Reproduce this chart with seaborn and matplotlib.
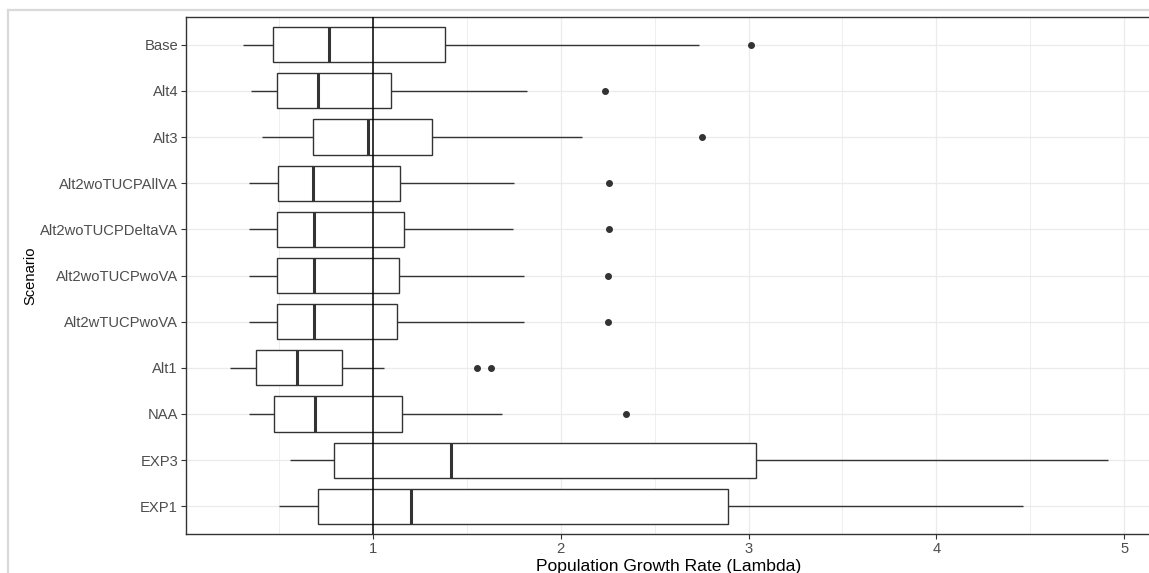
import matplotlib.pyplot as plt
import numpy as np
import pandas as pd
import seaborn as sns
from matplotlib.lines import Line2D
from matplotlib.ticker import MultipleLocator

# Scenarios, top to bottom
scenarios = ['Base', 'Alt4', 'Alt3', 'Alt2woTUCPAllVA', 'Alt2woTUCPDeltaVA',
             'Alt2woTUCPwoVA', 'Alt2wTUCPwoVA', 'Alt1', 'NAA', 'EXP3', 'EXP1']

# box summaries
whisker_lo = [0.31, 0.35, 0.41, 0.34, 0.34, 0.34, 0.34, 0.24, 0.34, 0.56, 0.50]
q1 = [0.467, 0.487, 0.682, 0.494, 0.487, 0.487, 0.487, 0.377, 0.474, 0.793, 0.709]
median = [0.766, 0.705, 0.972, 0.680, 0.688, 0.688, 0.688, 0.594, 0.693, 1.415, 1.200]
q3 = [1.385, 1.094, 1.316, 1.146, 1.165, 1.140, 1.126, 0.835, 1.153, 3.039, 2.889]
whisker_hi = [2.735, 1.819, 2.111, 1.753, 1.746, 1.806, 1.806, 1.057, 1.689, 4.915, 4.461]
outliers = [[3.012], [2.237], [2.752], [2.257], [2.257], [2.252], [2.252],
            [1.554, 1.627], [2.348], [], []]


# build observations whose quartiles / whiskers give the summaries above
rows = []
for i, name in enumerate(scenarios):
    k = len(outliers[i])
    m = k + 1
    vals = ([whisker_lo[i]] + [q1[i]] * m + [median[i]] * m + [q3[i]] * m
            + [whisker_hi[i]] * (m - k) + outliers[i])
    for v in vals:
        rows.append({'Scenario': name, 'Lambda': v})
df = pd.DataFrame(rows)


fig = plt.figure(figsize=(11.49, 5.73), dpi=100)
W, H = 1149, 573
ax = fig.add_axes([186 / W, (H - 534) / H, (1152 - 186) / W, (534 - 17) / H])

sns.boxplot(data=df, x='Lambda', y='Scenario', order=scenarios, ax=ax,
            color='white', linecolor='#333333', linewidth=1.0, width=0.76,
            whis=1.5, showcaps=False, saturation=1,
            medianprops=dict(linewidth=2.2, color='#333333'),
            flierprops=dict(marker='o', markersize=4.0, markerfacecolor='#333333',
                            markeredgecolor='#333333'))

ax.axvline(1, color='black', linewidth=1.1, zorder=5)

ax.set_xlim(0.004, 5.149)
ax.set_ylim(len(scenarios) - 1 + 0.6, -0.6)
ax.xaxis.set_major_locator(MultipleLocator(1))
ax.xaxis.set_minor_locator(MultipleLocator(0.5))

ax.set_axisbelow(True)
ax.grid(True, which='major', axis='both', color='#EBEBEB', linewidth=0.9)
ax.grid(True, which='minor', axis='x', color='#EBEBEB', linewidth=0.6)
ax.tick_params(which='minor', length=0)
ax.tick_params(which='major', length=3.5, width=0.8, color='#333333',
               labelcolor='#4D4D4D', labelsize=10.6, pad=2.2)
for lab in ax.get_xticklabels() + ax.get_yticklabels():
    lab.set_family('Liberation Sans')

for s in ax.spines.values():
    s.set_color('#333333')
    s.set_linewidth(1.0)
ax.spines['right'].set_visible(False)

ax.set_xlabel('Population Growth Rate (Lambda)', fontsize=12.6,
              family='Liberation Sans', color='black', labelpad=2)
ax.set_ylabel('Scenario', fontsize=10.6, family='Liberation Sans',
              color='black', labelpad=2)

# light frame of the screenshot
fig.add_artist(Line2D([8 / W, 1], [1 - 10 / H, 1 - 10 / H], color='#D9D9D9', linewidth=1.6))
fig.add_artist(Line2D([8 / W, 8 / W], [0, 1 - 10 / H], color='#D9D9D9', linewidth=1.6))

fig.savefig('out.png', dpi=100, facecolor='white')
